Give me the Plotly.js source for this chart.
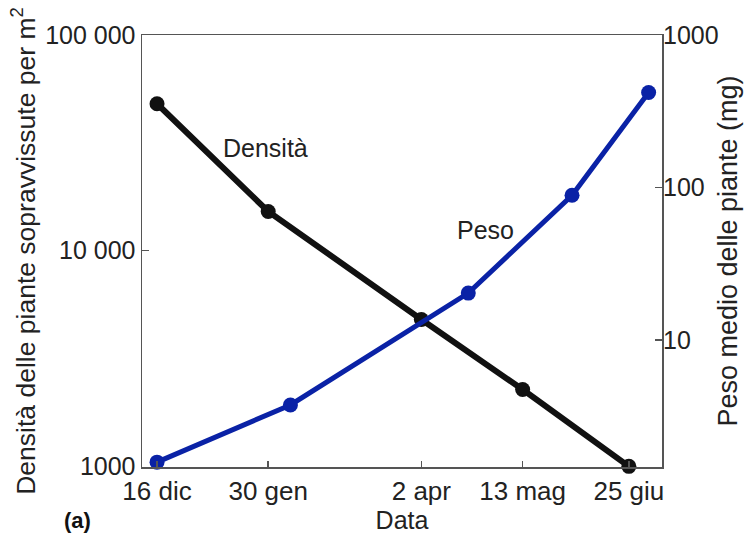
<!DOCTYPE html>
<html>
<head>
<meta charset="utf-8">
<script src="https://cdn.plot.ly/plotly-3.0.1.min.js"></script>
<style>html,body{margin:0;padding:0;background:#fff;}#chart{width:749px;height:535px;}</style>
</head>
<body>
<div id="chart"></div>
<script>
// Density of surviving plants (left axis, log)
const densDates = ['2000-12-16', '2001-01-30', '2001-04-02', '2001-05-13', '2001-06-25'];
const densValues = [48000, 15200, 4800, 2270, 1000];

// Mean plant weight in mg (right axis, log)
const pesoDates = ['2000-12-16', '2001-02-08', '2001-04-21', '2001-06-02', '2001-07-03'];
const pesoValues = [1.58, 3.75, 20.3, 89, 420];

// Axis ticks
const xTickVals = ['2000-12-16', '2001-01-30', '2001-04-02', '2001-05-13', '2001-06-25'];
const xTickText = ['16 dic', '30 gen', '2 apr', '13 mag', '25 giu'];
const yTickVals = [1000, 10000, 100000];
const yTickText = ['1000', '10 000', '100 000'];
const y2TickVals = [10, 100, 1000];
const y2TickText = ['10', '100', '1000'];

const FONT = 'Liberation Sans, Arial, Helvetica, sans-serif';
const AX = '#555';
const TXT = '#222';

const traces = [
  {
    x: pesoDates, y: pesoValues, yaxis: 'y2', type: 'scatter', mode: 'lines+markers',
    line: {color: '#0a22a6', width: 5}, marker: {color: '#0a22a6', size: 15},
    name: 'Peso', cliponaxis: false
  },
  {
    x: densDates, y: densValues, yaxis: 'y', type: 'scatter', mode: 'lines+markers',
    line: {color: '#111', width: 6}, marker: {color: '#111', size: 15},
    name: 'Densità', cliponaxis: false
  }
];

const layout = {
  width: 749, height: 535,
  margin: {l: 142, r: 87, t: 35, b: 68},
  paper_bgcolor: '#fff', plot_bgcolor: '#fff',
  showlegend: false,
  font: {family: FONT, size: 25, color: TXT},
  xaxis: {
    type: 'date',
    range: ['2000-12-09 22:00', '2001-07-08 10:00'],
    tickvals: xTickVals, ticktext: xTickText,
    ticks: 'inside', ticklen: 6, tickcolor: AX, tickwidth: 1.5,
    showgrid: false, zeroline: false,
    showline: true, linecolor: AX, linewidth: 1.5, mirror: true,
    tickfont: {family: FONT, size: 26, color: TXT},
    title: {text: 'Data', font: {family: FONT, size: 25, color: TXT}, standoff: 4}
  },
  yaxis: {
    type: 'log', range: [2.997, 5],
    tickvals: yTickVals, ticktext: yTickText,
    ticks: 'inside', ticklen: 7, tickcolor: AX, tickwidth: 1.5,
    showgrid: false, zeroline: false,
    showline: true, linecolor: AX, linewidth: 1.5, mirror: true,
    tickfont: {family: FONT, size: 25, color: TXT},
    title: {text: 'Densità delle piante sopravvissute per m<sup>2</sup>', font: {family: FONT, size: 26.5, color: TXT}, standoff: 2}
  },
  yaxis2: {
    type: 'log', range: [0.167, 3], overlaying: 'y', side: 'right',
    tickvals: y2TickVals, ticktext: y2TickText,
    ticks: 'inside', ticklen: 7, tickcolor: AX, tickwidth: 1.5,
    showgrid: false, zeroline: false, showline: false,
    tickfont: {family: FONT, size: 25, color: TXT},
    title: {text: 'Peso medio delle piante (mg)', font: {family: FONT, size: 27, color: TXT}, standoff: 0}
  },
  annotations: [
    {text: 'Densità', x: '2001-01-29', y: Math.log10(30000), xref: 'x', yref: 'y', showarrow: false,
     font: {family: FONT, size: 25, color: TXT}},
    {text: 'Peso', x: '2001-04-28', y: Math.log10(12500), xref: 'x', yref: 'y', showarrow: false,
     font: {family: FONT, size: 25, color: TXT}},
    {text: '<b>(a)</b>', xref: 'paper', yref: 'paper', xanchor: 'center', yanchor: 'middle', showarrow: false,
     font: {family: FONT, size: 22, color: '#111'}}
  ]
};

// place "(a)" below the bottom-left corner of the plot area
const pw = 749 - 142 - 87, ph = 535 - 35 - 68;
layout.annotations[2].x = (77 - 142) / pw;
layout.annotations[2].y = (467 - 520) / ph;

Plotly.newPlot('chart', traces, layout, {displayModeBar: false, staticPlot: true});
</script>
</body>
</html>
